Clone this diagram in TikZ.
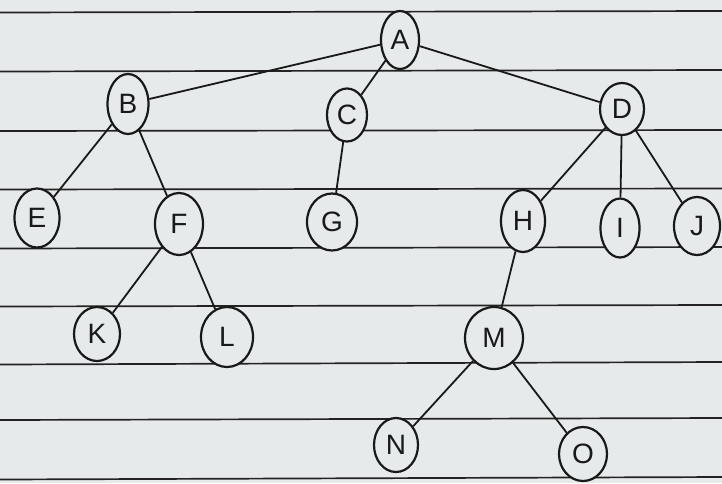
\documentclass[tikz,border=0pt]{standalone}
\usepackage{fontspec}
\setmainfont{Liberation Sans}
\usetikzlibrary{shapes.geometric}
\definecolor{paper}{RGB}{230,234,234}
\definecolor{ink}{RGB}{25,25,25}
\definecolor{rule}{RGB}{35,35,35}
\begin{document}
\begin{tikzpicture}[x=1pt,y=-1pt,
  tnode/.style={ellipse,draw=ink,line width=2.2pt,fill=paper,inner sep=0pt,
    font=\fontsize{28}{30}\selectfont,text=ink},
  edge/.style={draw=ink,line width=1.8pt},
  ruleline/.style={draw=rule,line width=1.7pt}]
\fill[paper] (0,0) rectangle (722,483);
\useasboundingbox (0,0) rectangle (722,483);
% ruled lines
\foreach \yl/\yr in {12.5/11, 71.5/70, 131/130, 189.5/188.5, 248.5/247, 306.5/305, 364.5/362, 420/418, 479.5/477}{
  \draw[ruleline] (0,\yl) -- (722,\yr);
}
% nodes
\node[tnode,minimum width=38pt,minimum height=58pt] (A) at (400,40) {A};
\node[tnode,minimum width=41pt,minimum height=60pt] (B) at (128,104) {B};
\node[tnode,minimum width=40pt,minimum height=53pt] (C) at (347,115) {C};
\node[tnode,minimum width=44pt,minimum height=52pt] (D) at (622,109) {D};
\node[tnode,minimum width=45pt,minimum height=59pt] (E) at (37,218) {E};
\node[tnode,minimum width=48pt,minimum height=62pt] (F) at (179,224) {F};
\node[tnode,minimum width=50pt,minimum height=57pt] (G) at (332,222) {G};
\node[tnode,minimum width=44pt,minimum height=62pt] (H) at (523,221) {H};
\node[tnode,minimum width=39pt,minimum height=59pt] (I) at (620,228) {I};
\node[tnode,minimum width=46pt,minimum height=58pt] (J) at (697,226) {J};
\node[tnode,minimum width=46pt,minimum height=54pt] (K) at (97,334) {K};
\node[tnode,minimum width=52pt,minimum height=60pt] (L) at (227,337) {L};
\node[tnode,minimum width=58pt,minimum height=62pt] (M) at (494,338) {M};
\node[tnode,minimum width=44pt,minimum height=54pt] (N) at (396,445) {N};
\node[tnode,minimum width=48pt,minimum height=54pt] (O) at (583,454) {O};
% edges
\foreach \p/\c in {A/B,A/C,A/D,B/E,B/F,C/G,D/H,D/I,D/J,F/K,F/L,H/M,M/N,M/O}{
  \draw[edge] (\p) -- (\c);
}
\end{tikzpicture}
\end{document}
